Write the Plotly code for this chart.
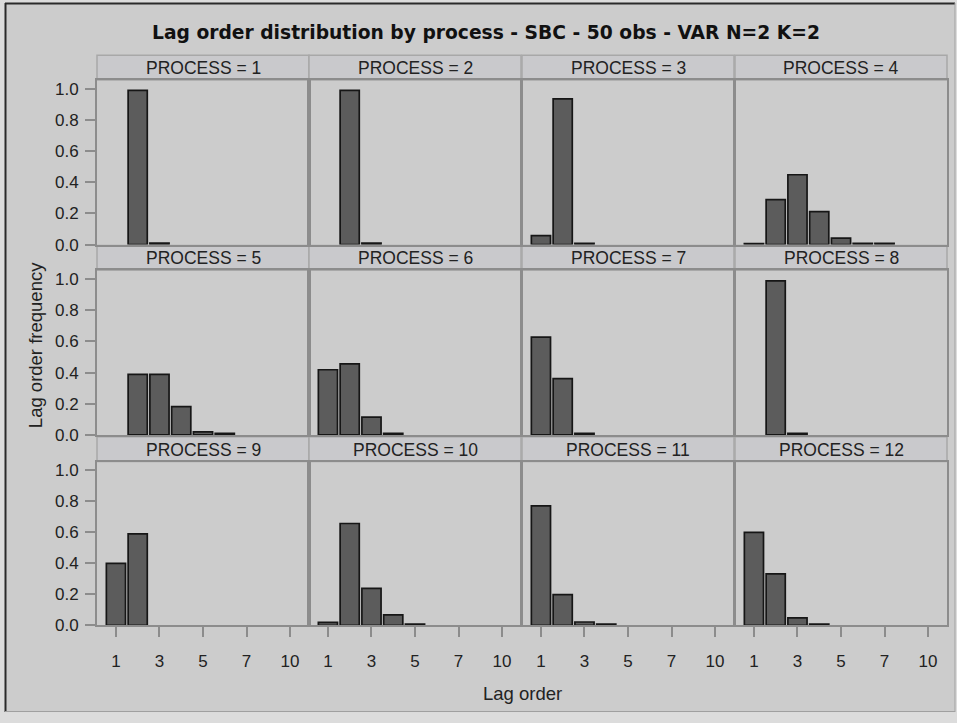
import plotly.graph_objects as go

W, H = 957, 723

lag_orders = ["1", "2", "3", "4", "5", "6", "7", "8", "10"]
tick_labels = ["1", "3", "5", "7", "10"]

p1 = [None, 0.99, 0.01, None, None, None, None, None, None]
p2 = [None, 0.99, 0.01, None, None, None, None, None, None]
p3 = [0.057, 0.935, 0.008, None, None, None, None, None, None]
p4 = [0.006, 0.288, 0.448, 0.212, 0.042, 0.008, 0.008, None, None]
p5 = [None, 0.389, 0.389, 0.182, 0.019, 0.01, None, None, None]
p6 = [0.418, 0.456, 0.114, 0.01, None, None, None, None, None]
p7 = [0.628, 0.361, 0.01, None, None, None, None, None, None]
p8 = [None, 0.989, 0.01, None, None, None, None, None, None]
p9 = [0.40, 0.59, None, None, None, None, None, None, None]
p10 = [0.019, 0.657, 0.238, 0.067, 0.008, None, None, None, None]
p11 = [0.771, 0.198, 0.021, 0.008, None, None, None, None, None]
p12 = [0.60, 0.332, 0.048, 0.008, None, None, None, None, None]
processes = [p1, p2, p3, p4, p5, p6, p7, p8, p9, p10, p11, p12]
process_labels = [f"PROCESS = {i}" for i in range(1, 13)]

y_ticks = [0.0, 0.2, 0.4, 0.6, 0.8, 1.0]

title = "Lag order distribution by process - SBC - 50 obs - VAR N=2 K=2"

# layout geometry (pixels)
col_left = [97, 309, 522, 735]
col_w = 212
plot_rows = [(81, 248), (274, 441), (468, 634)]
strip_h = 25

def px(x):
    return x / W

def py(y):
    return 1 - y / H

FONT = "Liberation Sans, Arial, sans-serif"
TFONT = "DejaVu Sans, sans-serif"
BG = "#CCCCCC"
PANEL_LINE = "#8C8C8C"

fig = go.Figure()
layout = {}
shapes = []
annotations = []

for i, vals in enumerate(processes):
    r, c = divmod(i, 4)
    n = i + 1
    xa = "x" if n == 1 else f"x{n}"
    ya = "y" if n == 1 else f"y{n}"
    fig.add_trace(go.Bar(
        x=lag_orders, y=vals, xaxis=xa, yaxis=ya,
        marker=dict(color="#5C5C5C", line=dict(color="#161616", width=1.7)),
        showlegend=False, hoverinfo="x+y",
    ))
    x0, x1 = col_left[c], col_left[c] + col_w
    y0, y1 = plot_rows[r]
    xkey = "xaxis" if n == 1 else f"xaxis{n}"
    ykey = "yaxis" if n == 1 else f"yaxis{n}"
    layout[xkey] = dict(
        domain=[px(x0), px(x1)], anchor=ya,
        type="category", categoryorder="array", categoryarray=lag_orders,
        range=[-0.87, 8.87],
        tickmode="array", tickvals=tick_labels, ticktext=tick_labels,
        showticklabels=(r == 2), ticks="outside" if r == 2 else "",
        ticklen=10, tickcolor="#8C8C8C", tickwidth=1.5,
        ticklabelstandoff=9,
        tickfont=dict(family=FONT, size=17, color="#222222"),
        showgrid=False, zeroline=False,
        showline=True, mirror=True, linecolor=PANEL_LINE, linewidth=2,
        fixedrange=True,
    )
    layout[ykey] = dict(
        domain=[py(y1), py(y0)], anchor=xa,
        range=[0, 1.057],
        tickmode="array", tickvals=y_ticks, tickformat=".1f",
        showticklabels=(c == 0), ticks="outside" if c == 0 else "",
        ticklen=10, tickcolor="#8C8C8C", tickwidth=1.5,
        ticklabelstandoff=3,
        tickfont=dict(family=FONT, size=17, color="#222222"),
        showgrid=False, zeroline=False,
        showline=True, mirror=True, linecolor=PANEL_LINE, linewidth=2,
        fixedrange=True,
    )
    # strip header
    sy0 = y0 - strip_h
    shapes.append(dict(type="rect", xref="paper", yref="paper",
                       x0=px(x0), x1=px(x1), y0=py(y0), y1=py(sy0),
                       fillcolor="#C9C9CC", line=dict(color="#A8A8A8", width=1.5),
                       layer="below"))
    annotations.append(dict(text=process_labels[i], xref="paper", yref="paper",
                            x=px((x0 + x1) / 2), y=py(sy0 + strip_h / 2 + 0.5),
                            xanchor="center", yanchor="middle", showarrow=False,
                            font=dict(family=FONT, size=17.5, color="#222222")))

# outer frame
shapes.insert(0, dict(type="rect", xref="paper", yref="paper",
                      x0=px(5), x1=px(955), y0=py(722), y1=py(3),
                      fillcolor=BG, line=dict(width=0), layer="below"))
shapes.append(dict(type="line", xref="paper", yref="paper",
                   x0=px(5), x1=px(955), y0=py(3.5), y1=py(3.5),
                   line=dict(color="#2A2A2A", width=2)))
shapes.append(dict(type="line", xref="paper", yref="paper",
                   x0=px(5.5), x1=px(5.5), y0=py(3), y1=py(722),
                   line=dict(color="#2A2A2A", width=2)))
shapes.append(dict(type="line", xref="paper", yref="paper",
                   x0=px(955), x1=px(955), y0=py(3), y1=py(722),
                   line=dict(color="#A0A0A0", width=1)))
shapes.append(dict(type="line", xref="paper", yref="paper",
                   x0=px(5), x1=px(955), y0=py(721.5), y1=py(721.5),
                   line=dict(color="#A0A0A0", width=1)))

annotations.append(dict(text="<b>" + title + "</b>", xref="paper", yref="paper",
                        x=px(486.5), y=py(33), xanchor="center", yanchor="middle",
                        showarrow=False,
                        font=dict(family=TFONT, size=18.7, color="#111111")))
annotations.append(dict(text="Lag order frequency", xref="paper", yref="paper",
                        x=px(35), y=py(350), xanchor="center", yanchor="middle",
                        textangle=-90, showarrow=False,
                        font=dict(family=FONT, size=18.5, color="#222222")))
annotations.append(dict(text="Lag order", xref="paper", yref="paper",
                        x=px(522), y=py(703), xanchor="center", yanchor="middle",
                        showarrow=False,
                        font=dict(family=FONT, size=18.5, color="#222222")))

fig.update_layout(
    width=W, height=H,
    margin=dict(l=0, r=0, t=0, b=0),
    paper_bgcolor="#DCDCDC", plot_bgcolor=BG,
    bargap=0.12,
    shapes=shapes, annotations=annotations,
    **layout,
)

fig.write_html("out.html", config={"displayModeBar": False})
